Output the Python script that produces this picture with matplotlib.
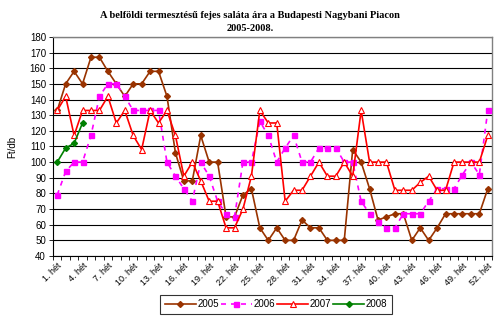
import matplotlib
matplotlib.use("Agg")
import matplotlib.pyplot as plt
import numpy as np

weeks = [f"{i}. hét" for i in range(1, 53)]

s2005 = [133, 150, 158, 150, 167, 167, 158, 150, 142, 150, 150, 158, 158, 142, 106, 88,
         88, 117, 100, 100, 65, 65, 79, 83, 58, 50, 58, 50, 50, 63, 58, 58,
         50, 50, 50, 108, 100, 83, 63, 65, 67, 67, 50, 58, 50, 58, 67, 67,
         67, 67, 67, 83]
s2006 = [79, 94, 100, 100, 117, 142, 150, 150, 142, 133, 133, 133, 133, 100, 91, 83,
         75, 100, 91, 75, 67, 65, 100, 100, 126, 117, 100, 109, 117, 100, 100, 109,
         109, 109, 100, 100, 75, 67, 62, 58, 58, 67, 67, 67, 75, 83, 83, 83,
         92, 100, 92, 133]
s2007 = [133, 142, 117, 133, 133, 133, 142, 125, 133, 117, 108, 133, 125, 133, 117, 91,
         100, 88, 75, 75, 58, 58, 70, 91, 133, 125, 125, 75, 82, 82, 91, 100,
         91, 91, 100, 91, 133, 100, 100, 100, 82, 82, 82, 87, 91, 82, 82, 100,
         100, 100, 100, 117]
s2008 = [100, 109, 112, 125]

series_labels = ["2005", "2006", "2007", "2008"]
title = "A belföldi termesztésű fejes saláta ára a Budapesti Nagybani Piacon\n2005-2008."
ylabel = "Ft/db"

plt.rcParams['font.family'] = ['Liberation Sans', 'DejaVu Sans']

fig = plt.figure(figsize=(5.0, 3.28), dpi=100)
ax = fig.add_axes([0.106, 0.2195, 0.878, 0.668])

x = np.arange(len(weeks))
ax.plot(x, s2005, color='#993300', lw=1.2, marker='D', ms=3, mfc='#993300', mec='#993300', label=series_labels[0], zorder=3)
ax.plot(x, s2006, color='#FF00FF', lw=1.2, ls=(0, (3, 3)), marker='s', ms=3.6, mfc='#FF00FF', mec='#FF00FF', label=series_labels[1], zorder=3)
ax.plot(x, s2007, color='#FF0000', lw=1.2, marker='^', ms=4.5, mfc='white', mec='#FF0000', mew=0.8, label=series_labels[2], zorder=4)
ax.plot(x[:len(s2008)], s2008, color='#008000', lw=1.2, marker='D', ms=3, mfc='#008000', mec='#008000', label=series_labels[3], zorder=5)

ax.set_xlim(-0.5, len(weeks) - 0.5)
ax.set_ylim(40, 180)
ax.set_yticks(np.arange(40, 181, 10))
ax.yaxis.grid(True, color='black', lw=0.8)
ax.set_axisbelow(True)

major = list(range(0, len(weeks), 3))
ax.set_xticks(major)
ax.set_xticklabels([weeks[i] for i in major], rotation=45, ha='right', rotation_mode='anchor', fontsize=6.5)
ax.set_xticks(np.arange(-0.5, len(weeks), 1), minor=True)
ax.tick_params(axis='x', which='major', length=0, pad=4)
ax.tick_params(axis='x', which='minor', length=3, width=0.6, direction='out')
ax.tick_params(axis='y', labelsize=7, length=3, width=0.6, pad=2)

for side in ['top', 'right']:
    ax.spines[side].set_color('#808080')
    ax.spines[side].set_linewidth(1.0)
for side in ['left', 'bottom']:
    ax.spines[side].set_color('black')
    ax.spines[side].set_linewidth(0.8)

ax.set_ylabel(ylabel, fontsize=7, labelpad=9)
fig.text(0.5, 0.965, title, ha='center', va='top', fontsize=7.5, fontweight='bold',
         family='Liberation Serif', linespacing=1.5)

leg = fig.legend(loc='center', bbox_to_anchor=(0.552, 0.072), ncol=4, fontsize=7,
                 frameon=True, fancybox=False, edgecolor='black', handlelength=3.2,
                 columnspacing=0.2, handletextpad=0.15, borderpad=0.5)
leg.get_frame().set_linewidth(0.8)

fig.savefig("out.png", dpi=100)
